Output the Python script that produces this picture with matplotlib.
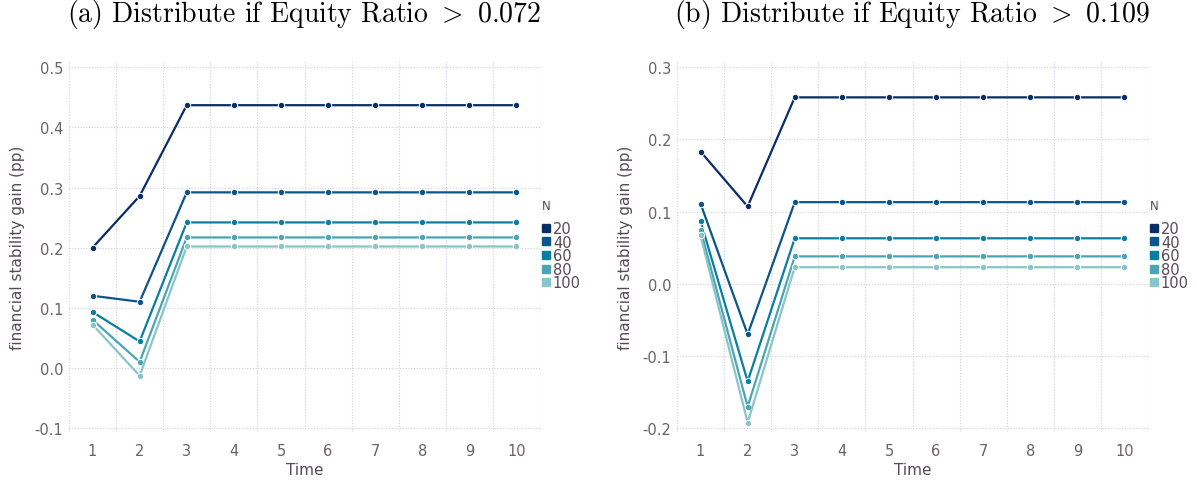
import matplotlib
matplotlib.use("Agg")
import matplotlib.pyplot as plt
from matplotlib.lines import Line2D

plt.rcParams['mathtext.fontset'] = 'cm'
plt.rcParams['font.family'] = 'DejaVu Sans'

time = [1, 2, 3, 4, 5, 6, 7, 8, 9, 10]
n_values = ['20', '40', '60', '80', '100']
colors = ['#0b2d66', '#0b5588', '#0a7e9e', '#4aa4b3', '#88c5c6']

# panel (a): threshold 0.072
gain_a = {
    '20':  [0.200, 0.286] + [0.437] * 8,
    '40':  [0.120, 0.110] + [0.292] * 8,
    '60':  [0.093, 0.044] + [0.242] * 8,
    '80':  [0.080, 0.010] + [0.217] * 8,
    '100': [0.072, -0.013] + [0.202] * 8,
}
# panel (b): threshold 0.109
gain_b = {
    '20':  [0.183, 0.107] + [0.258] * 8,
    '40':  [0.111, -0.070] + [0.113] * 8,
    '60':  [0.087, -0.135] + [0.063] * 8,
    '80':  [0.075, -0.170] + [0.038] * 8,
    '100': [0.067, -0.192] + [0.023] * 8,
}

yticks_a = [-0.1, 0.0, 0.1, 0.2, 0.3, 0.4, 0.5]
yticks_b = [-0.2, -0.1, 0.0, 0.1, 0.2, 0.3]

W, H = 1197, 485
fig = plt.figure(figsize=(W / 100, H / 100), dpi=100)

label_col = '#6c606b'
axis_col = '#564a55'
grid_col = '#d0d0e0'


def panel(left, data, yticks, ylim, title, legend_x):
    ax = fig.add_axes([left / W, 52 / H, 471 / W, 371 / H])
    for n, c in zip(n_values, colors):
        ax.plot(time, data[n], color=c, lw=1.6, marker='o', ms=4.6,
                mec='white', mew=0.7, zorder=3)
    ax.set_xlim(0.5, 10.5)
    ax.set_ylim(*ylim)
    ax.set_xticks(time)
    ax.set_xticks([t + 0.5 for t in [0] + time], minor=True)
    ax.set_yticks(yticks)
    ax.set_yticklabels([f'{v:.1f}' for v in yticks])
    ax.tick_params(which='both', length=0, colors=label_col, labelsize=10.5)
    ax.tick_params(axis='y', pad=4)
    ax.tick_params(axis='x', pad=8)
    for s in ax.spines.values():
        s.set_visible(False)
    ax.grid(axis='y', which='major', color=grid_col, ls=(0, (1, 1.5)), lw=0.8)
    ax.grid(axis='x', which='minor', color=grid_col, ls=(0, (1, 1.5)), lw=0.8)
    ax.set_axisbelow(True)
    ax.set_xlabel('Time', color=axis_col, fontsize=11, labelpad=3)
    ax.set_ylabel('financial stability gain (pp)', color=axis_col, fontsize=11, labelpad=7)
    fig.text((left + 235) / W, 1 - 22 / H, title, ha='center', va='baseline',
             fontsize=20, family='cmr10')

    fig.text(legend_x / W, 1 - 207 / H, 'N', ha='left', va='center',
             fontsize=8.5, color=axis_col)
    handles = [Line2D([], [], ls='none', marker='s', ms=5.5, color=c) for c in colors]
    leg = fig.legend(handles, n_values, loc='upper left',
                     bbox_to_anchor=(legend_x / W, 1 - 222 / H), frameon=False,
                     fontsize=10.5, handlelength=0.5,
                     handletextpad=0.25, labelspacing=-0.1, borderpad=0,
                     borderaxespad=0)
    for t in leg.get_texts():
        t.set_color(axis_col)
    return ax


panel(69, gain_a, yticks_a, (-0.1066, 0.5105),
      r'(a) Distribute if Equity Ratio $>$ 0.072', 542)
panel(677, gain_b, yticks_b, (-0.205, 0.3083),
      r'(b) Distribute if Equity Ratio $>$ 0.109', 1150)

fig.savefig('out.png', dpi=100)
